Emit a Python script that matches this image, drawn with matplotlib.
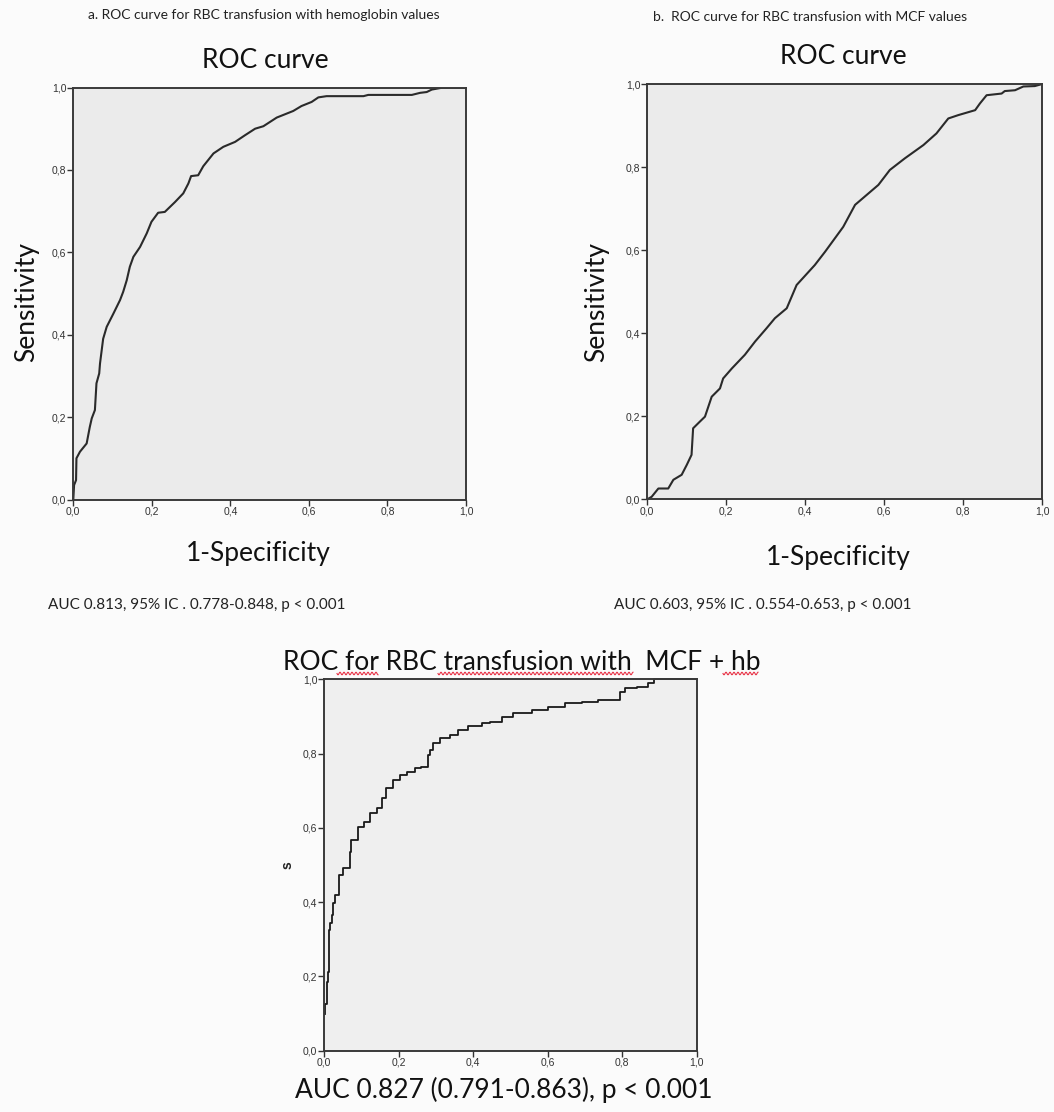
import matplotlib
matplotlib.use("Agg")
import matplotlib.pyplot as plt
from matplotlib.lines import Line2D
import numpy as np

# ---------------- data ----------------
hb_fpr = [0.0, 0.002, 0.007, 0.008, 0.017, 0.034, 0.042, 0.047, 0.055, 0.059, 0.066, 0.068,
          0.076, 0.085, 0.102, 0.119, 0.127, 0.136, 0.144, 0.153, 0.17, 0.187, 0.199, 0.216,
          0.233, 0.259, 0.28, 0.293, 0.3, 0.318, 0.331, 0.357, 0.382, 0.412, 0.437, 0.463,
          0.484, 0.518, 0.56, 0.581, 0.607, 0.624, 0.645, 0.739, 0.751, 0.862, 0.883, 0.9,
          0.913, 0.942, 1.0]
hb_tpr = [0.0, 0.035, 0.047, 0.10, 0.116, 0.136, 0.176, 0.197, 0.217, 0.282, 0.306, 0.33,
          0.39, 0.419, 0.451, 0.484, 0.504, 0.532, 0.565, 0.589, 0.613, 0.646, 0.674, 0.696,
          0.698, 0.722, 0.743, 0.767, 0.785, 0.787, 0.809, 0.84, 0.856, 0.868, 0.884, 0.90,
          0.906, 0.927, 0.943, 0.955, 0.965, 0.976, 0.979, 0.979, 0.982, 0.982, 0.987, 0.989,
          0.995, 1.0, 1.0]

mcf_fpr = [0.0, 0.011, 0.028, 0.053, 0.066, 0.087, 0.1, 0.112, 0.116, 0.133, 0.146, 0.163,
           0.184, 0.192, 0.214, 0.247, 0.273, 0.302, 0.323, 0.353, 0.378, 0.424, 0.45, 0.496,
           0.526, 0.585, 0.614, 0.652, 0.699, 0.732, 0.762, 0.787, 0.83, 0.842, 0.859, 0.897,
           0.905, 0.931, 0.952, 0.981, 1.0]
mcf_tpr = [0.0, 0.006, 0.026, 0.026, 0.047, 0.059, 0.083, 0.107, 0.171, 0.187, 0.199, 0.247,
           0.267, 0.291, 0.315, 0.348, 0.38, 0.412, 0.436, 0.46, 0.516, 0.564, 0.596, 0.656,
           0.709, 0.757, 0.793, 0.821, 0.853, 0.881, 0.917, 0.925, 0.937, 0.953, 0.973, 0.977,
           0.983, 0.985, 0.994, 0.995, 1.0]

comb_fpr = [0.002, 0.006, 0.009, 0.013, 0.014, 0.02, 0.024, 0.03, 0.039, 0.051, 0.069, 0.072,
            0.091, 0.107, 0.123, 0.141, 0.154, 0.167, 0.185, 0.203, 0.221, 0.244, 0.261, 0.279,
            0.284, 0.293, 0.311, 0.338, 0.36, 0.387, 0.423, 0.445, 0.476, 0.508, 0.557, 0.602,
            0.646, 0.691, 0.736, 0.794, 0.807, 0.839, 0.87, 0.884, 0.893, 1.0]
comb_tpr = [0.10, 0.127, 0.186, 0.213, 0.325, 0.343, 0.365, 0.397, 0.419, 0.473, 0.491, 0.536,
            0.567, 0.603, 0.617, 0.639, 0.653, 0.68, 0.706, 0.729, 0.742, 0.751, 0.76, 0.765,
            0.796, 0.81, 0.828, 0.841, 0.85, 0.864, 0.873, 0.882, 0.886, 0.899, 0.908, 0.917,
            0.926, 0.935, 0.94, 0.944, 0.967, 0.976, 0.98, 0.989, 1.0, 1.0]

tick_values = [0.0, 0.2, 0.4, 0.6, 0.8, 1.0]
tick_labels = ["0,0", "0,2", "0,4", "0,6", "0,8", "1,0"]

# ---------------- figure ----------------
W, H = 1054, 1112
fig = plt.figure(figsize=(W / 100, H / 100), dpi=100)
fig.patch.set_facecolor("#fbfbfb")

TXT = ["Lato", "DejaVu Sans"]
TICKF = ["Liberation Sans", "DejaVu Sans"]


def fx(px):
    return px / W


def fy(py):
    return 1 - py / H


def make_axes(left, top, right, bottom, face):
    ax = fig.add_axes([fx(left), fy(bottom), fx(right) - fx(left), fy(top) - fy(bottom)])
    ax.set_facecolor(face)
    ax.set_xlim(0, 1)
    ax.set_ylim(0, 1)
    ax.set_xticks(tick_values)
    ax.set_yticks(tick_values)
    ax.set_xticklabels(tick_labels, fontsize=7.5, family=TICKF, color="#333333")
    ax.set_yticklabels(tick_labels, fontsize=7.5, family=TICKF, color="#333333")
    ax.tick_params(direction="out", length=4, width=1.0, color="#333333", pad=1)
    for s in ax.spines.values():
        s.set_color("#3a3a3a")
        s.set_linewidth(1.4)
    return ax


# Panel a
ax1 = make_axes(73.3, 87.5, 466, 499.5, "#ebebeb")
ax1.plot(hb_fpr, hb_tpr, color="#2a2a2a", lw=1.5)

# Panel b
ax2 = make_axes(647.3, 84, 1042.3, 499.3, "#ebebeb")
ax2.plot(mcf_fpr, mcf_tpr, color="#2a2a2a", lw=1.5)

# Panel c
ax3 = make_axes(324.3, 679.3, 696.7, 1050.7, "#efefef")
ax3.plot(comb_fpr, comb_tpr, color="#1a1a1a", lw=1.3, drawstyle="steps-pre", clip_on=False)

# ---------------- texts ----------------
fig.text(fx(264), fy(15), "a. ROC curve for RBC transfusion with hemoglobin values",
         ha="center", va="center", fontsize=10, family=TXT, color="#222222")
fig.text(fx(810), fy(17), "b.  ROC curve for RBC transfusion with MCF values",
         ha="center", va="center", fontsize=10, family=TXT, color="#222222")

fig.text(fx(265), fy(60), "ROC curve", ha="center", va="center", fontsize=19, family=TXT, color="#111111")
fig.text(fx(843), fy(57), "ROC curve", ha="center", va="center", fontsize=19, family=TXT, color="#111111")

fig.text(fx(27), fy(302), "Sensitivity", ha="center", va="center", rotation=90,
         fontsize=19, family=TXT, color="#111111")
fig.text(fx(597), fy(302), "Sensitivity", ha="center", va="center", rotation=90,
         fontsize=19, family=TXT, color="#111111")

fig.text(fx(258), fy(553), "1-Specificity", ha="center", va="center", fontsize=19, family=TXT, color="#111111")
fig.text(fx(838), fy(557), "1-Specificity", ha="center", va="center", fontsize=19, family=TXT, color="#111111")

fig.text(fx(48), fy(605), "AUC 0.813, 95% IC . 0.778-0.848, p < 0.001", ha="left", va="center",
         fontsize=11, family=TXT, color="#222222")
fig.text(fx(614), fy(605), "AUC 0.603, 95% IC . 0.554-0.653, p < 0.001", ha="left", va="center",
         fontsize=11, family=TXT, color="#222222")

fig.text(fx(522), fy(662), "ROC for RBC transfusion with  MCF + hb", ha="center", va="center",
         fontsize=19, family=TXT, color="#111111")
fig.text(fx(288), fy(865), "s", ha="center", va="center", rotation=90, fontsize=10,
         family=TICKF, weight="bold", color="#222222")
fig.text(fx(504), fy(1090), "AUC 0.827 (0.791-0.863), p < 0.001", ha="center", va="center",
         fontsize=19, family=TXT, color="#111111")

# spell-check style wavy underlines under parts of the bottom title
for x0, x1 in [(337, 378), (438, 633), (723, 758)]:
    xs = np.linspace(x0, x1, int((x1 - x0) * 2))
    ys = 673.5 + 1.3 * np.sin((xs - x0) / 4.0 * 2 * np.pi)
    fig.add_artist(Line2D(fx(xs), fy(ys), color="#e8364a", lw=0.8, transform=fig.transFigure))

fig.savefig("out.png", dpi=100, facecolor=fig.get_facecolor())
